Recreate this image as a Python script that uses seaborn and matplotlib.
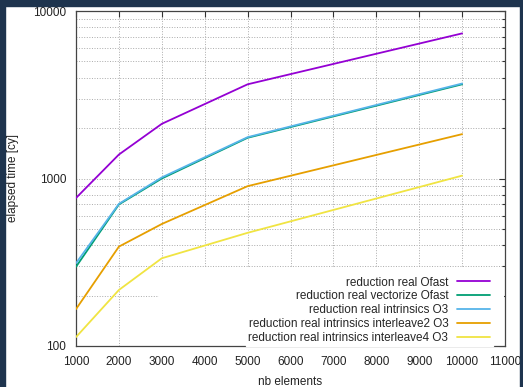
import pandas as pd
import matplotlib
matplotlib.use("Agg")
import matplotlib.pyplot as plt
import seaborn as sns
from matplotlib.patches import Rectangle
from matplotlib.ticker import LogLocator, FixedLocator, NullFormatter

# data
sizes = [1000, 2000, 3000, 5000, 10000]
ofast = [765, 1390, 2120, 3650, 7350]
vectorize = [297, 700, 1000, 1750, 3650]
intrinsics = [312, 706, 1015, 1765, 3690]
interleave2 = [166, 392, 535, 900, 1840]
interleave4 = [113, 216, 334, 474, 1040]

names = ["reduction real Ofast",
         "reduction real vectorize Ofast",
         "reduction real intrinsics O3",
         "reduction real intrinsics interleave2 O3",
         "reduction real intrinsics interleave4 O3"]
colors = ["#9400d3", "#009e73", "#56b4e9", "#e69f00", "#f0e442"]
x_ticks = list(range(1000, 11001, 1000))

rows = []
for name, vals in zip(names, [ofast, vectorize, intrinsics, interleave2, interleave4]):
    for s, v in zip(sizes, vals):
        rows.append({"nb elements": s, "elapsed": v, "series": name})
df = pd.DataFrame(rows)

sns.set_style("white")
plt.rcParams['font.family'] = ['Liberation Sans', 'DejaVu Sans']
plt.rcParams['font.size'] = 8.5

fig = plt.figure(figsize=(5.23, 3.87), dpi=100)
fig.patch.set_facecolor("white")
ax = fig.add_axes([76/523, 1 - 346/387, (505-76)/523, (346-11)/387])

sns.lineplot(data=df, x="nb elements", y="elapsed", hue="series", hue_order=names,
             palette=colors, linewidth=1.3, ax=ax, legend=False, zorder=3)

ax.set_yscale("log")
ax.set_xlim(1000, 11000)
ax.set_ylim(100, 10000)
ax.xaxis.set_major_locator(FixedLocator(x_ticks))
ax.set_xticklabels([str(t) for t in x_ticks])
ax.yaxis.set_major_locator(FixedLocator([100, 1000, 10000]))
ax.set_yticklabels(["100", "1000", "10000"])
ax.yaxis.set_minor_locator(LogLocator(base=10, subs=range(2, 10)))
ax.yaxis.set_minor_formatter(NullFormatter())

ax.grid(True, which="major", axis="both", linestyle=":", color="#aaaaaa", linewidth=0.7)
ax.grid(True, which="minor", axis="y", linestyle=":", color="#aaaaaa", linewidth=0.7)
ax.tick_params(which="both", direction="in", top=True, right=True, colors="#333333",
               labelcolor="#222222")
ax.tick_params(which="major", length=4.5, width=0.8)
ax.tick_params(which="minor", length=2.5, width=0.8)
ax.tick_params(axis="x", pad=7)
ax.tick_params(axis="y", pad=7)
for sp in ax.spines.values():
    sp.set_color("#444444")
    sp.set_linewidth(0.9)

ax.set_xlabel("nb elements", color="#222222")
ax.xaxis.set_label_coords(0.5, -0.09)
ax.xaxis.label.set_va("top")
ax.set_ylabel("elapsed time [cy]", color="#222222")
ax.yaxis.set_label_coords(-0.132, 0.5)

# opaque key box (hides grid behind the key, like gnuplot)
ax.add_patch(Rectangle((0.193, 0.0), 0.805, 0.233, transform=ax.transAxes,
                       facecolor="white", edgecolor="none", zorder=2.5))

handles = [plt.Line2D([], [], color=c, linewidth=1.3) for c in colors]
leg = ax.legend(handles, names, loc="lower right", bbox_to_anchor=(0.971, 0.0),
                markerfirst=False, frameon=True, fancybox=False, handlelength=2.8,
                handletextpad=0.75, labelspacing=0.15, borderaxespad=0.0,
                borderpad=0.2, fontsize=8.5)
leg.get_frame().set_facecolor("white")
leg.get_frame().set_edgecolor("white")
leg.get_frame().set_alpha(1)
for t in leg.get_texts():
    t.set_ha("right")
leg._legend_box.align = "right"

# dark page border around the white chart
border = "#1e344e"
fig.patches.append(Rectangle((0, 0), 5/523, 1, transform=fig.transFigure, color=border, zorder=20))
fig.patches.append(Rectangle((520/523, 0), 3/523, 1, transform=fig.transFigure, color=border, zorder=20))
fig.patches.append(Rectangle((0, 1 - 6/387), 1, 6/387, transform=fig.transFigure, color=border, zorder=20))

fig.savefig("out.png", dpi=100, facecolor="white")
